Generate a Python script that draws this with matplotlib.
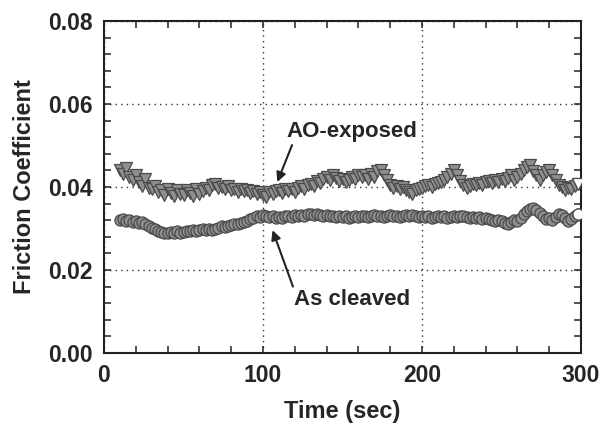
import numpy as np
import matplotlib
matplotlib.use("Agg")
import matplotlib.pyplot as plt
from matplotlib.ticker import MultipleLocator

plt.rcParams['font.family'] = ['Liberation Sans', 'DejaVu Sans']

time_sec = np.arange(10, 300, 2)

ao_exposed = [
    0.0440, 0.0432, 0.0445, 0.0425, 0.0418, 0.0430, 0.0412, 0.0402, 0.0420, 0.0398,
    0.0395, 0.0402, 0.0388, 0.0392, 0.0380, 0.0396, 0.0385, 0.0378, 0.0392, 0.0383,
    0.0380, 0.0393, 0.0386, 0.0378, 0.0395, 0.0384, 0.0390, 0.0398, 0.0392, 0.0404,
    0.0408, 0.0398, 0.0400, 0.0394, 0.0402, 0.0392, 0.0395, 0.0388, 0.0396, 0.0390,
    0.0393, 0.0386, 0.0391, 0.0384, 0.0389, 0.0380, 0.0376, 0.0388, 0.0384, 0.0390,
    0.0392, 0.0385, 0.0396, 0.0390, 0.0394, 0.0389, 0.0398, 0.0402, 0.0396, 0.0405,
    0.0408, 0.0402, 0.0415, 0.0410, 0.0420, 0.0425, 0.0418, 0.0430, 0.0422, 0.0415,
    0.0420, 0.0412, 0.0418, 0.0425, 0.0420, 0.0430, 0.0424, 0.0428, 0.0420, 0.0432,
    0.0425, 0.0438, 0.0442, 0.0430, 0.0418, 0.0405, 0.0398, 0.0402, 0.0394, 0.0400,
    0.0392, 0.0388, 0.0384, 0.0392, 0.0396, 0.0398, 0.0402, 0.0405, 0.0400, 0.0408,
    0.0410, 0.0412, 0.0418, 0.0425, 0.0432, 0.0440, 0.0428, 0.0415, 0.0405, 0.0398,
    0.0402, 0.0408, 0.0405, 0.0410, 0.0406, 0.0412, 0.0415, 0.0410, 0.0418, 0.0412,
    0.0420, 0.0415, 0.0422, 0.0428, 0.0418, 0.0425, 0.0432, 0.0440, 0.0448, 0.0452,
    0.0438, 0.0430, 0.0418, 0.0428, 0.0435, 0.0442, 0.0430, 0.0418, 0.0405, 0.0400,
    0.0392, 0.0398, 0.0395, 0.0402, 0.0408,
]

as_cleaved = [
    0.0320, 0.0322, 0.0318, 0.0321, 0.0316, 0.0319, 0.0314, 0.0316, 0.0310, 0.0305,
    0.0302, 0.0298, 0.0295, 0.0292, 0.0290, 0.0288, 0.0292, 0.0289, 0.0293, 0.0290,
    0.0292, 0.0295, 0.0293, 0.0297, 0.0294, 0.0296, 0.0298, 0.0296, 0.0299, 0.0297,
    0.0300, 0.0302, 0.0305, 0.0303, 0.0307, 0.0309, 0.0312, 0.0310, 0.0314, 0.0316,
    0.0318, 0.0322, 0.0325, 0.0330, 0.0328, 0.0332, 0.0330, 0.0327, 0.0329, 0.0326,
    0.0328, 0.0326, 0.0329, 0.0331, 0.0328, 0.0332, 0.0330, 0.0333, 0.0331, 0.0334,
    0.0336, 0.0332, 0.0335, 0.0333, 0.0330, 0.0332, 0.0329, 0.0331, 0.0328, 0.0330,
    0.0327, 0.0329, 0.0326, 0.0328, 0.0330, 0.0327, 0.0329, 0.0331, 0.0328, 0.0330,
    0.0332, 0.0329, 0.0331, 0.0328, 0.0330, 0.0332, 0.0329, 0.0331, 0.0328, 0.0330,
    0.0332, 0.0330, 0.0333, 0.0331, 0.0328, 0.0330, 0.0327, 0.0329, 0.0326, 0.0328,
    0.0330, 0.0327, 0.0329, 0.0326, 0.0328, 0.0330, 0.0327, 0.0329, 0.0331, 0.0328,
    0.0326, 0.0328, 0.0325, 0.0327, 0.0323, 0.0325, 0.0322, 0.0320, 0.0318, 0.0321,
    0.0317, 0.0314, 0.0312, 0.0316, 0.0320, 0.0318, 0.0325, 0.0335, 0.0342, 0.0348,
    0.0350, 0.0345, 0.0338, 0.0330, 0.0322, 0.0325, 0.0320, 0.0328, 0.0335, 0.0332,
    0.0325, 0.0318, 0.0322, 0.0330, 0.0336,
]

x_ticks = [0, 100, 200, 300]
y_ticks = [0.00, 0.02, 0.04, 0.06, 0.08]
y_tick_labels = ["0.00", "0.02", "0.04", "0.06", "0.08"]

text_color = '#262626'

fig = plt.figure(figsize=(6.02, 4.30), dpi=100)
ax = fig.add_axes([104/602, 1 - 353/430, (581-104)/602, (353-21)/430])

ax.plot(time_sec, ao_exposed, linestyle='none', marker='v', ms=9,
        mfc='#8f8f8f', mec='#4a4a4a', mew=0.9, zorder=3)
ax.plot(time_sec[-1:], ao_exposed[-1:], linestyle='none', marker='v', ms=9,
        mfc='white', mec='#4a4a4a', mew=0.9, zorder=4)
ax.plot(time_sec, as_cleaved, linestyle='none', marker='o', ms=8,
        mfc='#8f8f8f', mec='#4a4a4a', mew=0.9, zorder=3)
ax.plot(time_sec[-1:], as_cleaved[-1:], linestyle='none', marker='o', ms=8,
        mfc='white', mec='#4a4a4a', mew=0.9, zorder=4)

ax.set_xlim(0, 300)
ax.set_ylim(0, 0.08)
ax.set_xticks(x_ticks)
ax.set_yticks(y_ticks)
ax.set_yticklabels(y_tick_labels)
ax.xaxis.set_minor_locator(MultipleLocator(20))
ax.yaxis.set_minor_locator(MultipleLocator(0.004))
ax.tick_params(which='both', direction='in', top=True, right=True,
               length=5, width=1.1, color='#222222')
ax.tick_params(which='major', labelsize=16.5, labelcolor=text_color, pad=8)
for lab in ax.get_xticklabels() + ax.get_yticklabels():
    lab.set_fontweight('bold')

ax.grid(True, which='major', linestyle=(0, (1, 3)), color='#333333', linewidth=1.0)
for s in ax.spines.values():
    s.set_linewidth(1.5)
    s.set_color('#222222')

ax.set_xlabel('Time (sec)', fontsize=17, fontweight='bold', color=text_color, labelpad=9)
ax.set_ylabel('Friction Coefficient', fontsize=17, fontweight='bold', color=text_color, labelpad=9)

ax.annotate('AO-exposed', xy=(109, 0.0412), xytext=(156, 0.0533),
            fontsize=16, fontweight='bold', color=text_color, ha='center', va='center',
            arrowprops=dict(arrowstyle='-|>', color='#222222', lw=1.5,
                            shrinkA=0, shrinkB=0, mutation_scale=14,
                            relpos=(0.05, 0.0)))
ax.annotate('As cleaved', xy=(106, 0.0296), xytext=(156, 0.0128),
            fontsize=16, fontweight='bold', color=text_color, ha='center', va='center',
            arrowprops=dict(arrowstyle='-|>', color='#222222', lw=1.5,
                            shrinkA=0, shrinkB=0, mutation_scale=14,
                            relpos=(0.0, 1.0)))

fig.savefig('out.png', dpi=100)
